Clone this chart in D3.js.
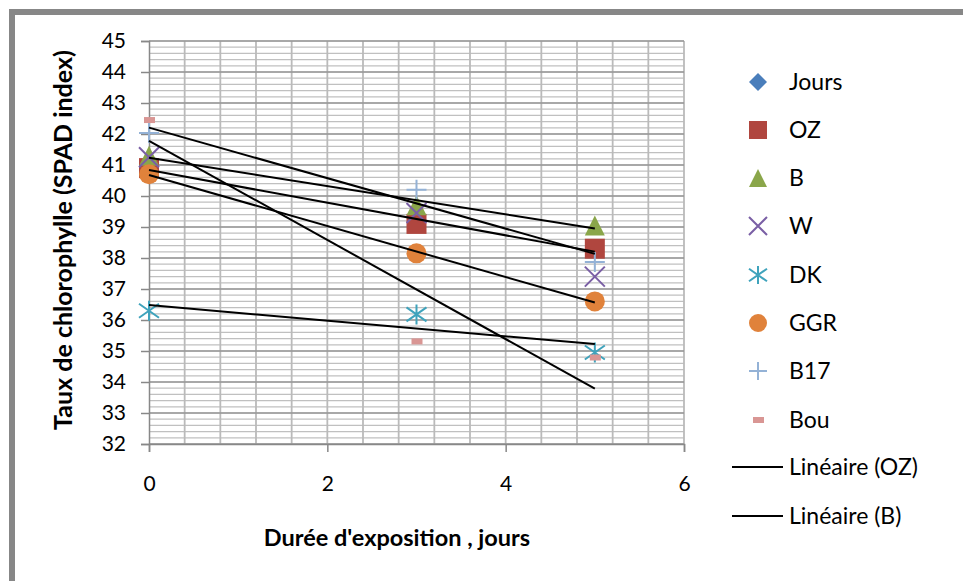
<!DOCTYPE html>
<html>
<head>
<meta charset="utf-8">
<script src="https://cdn.jsdelivr.net/npm/d3@7"></script>
<style>
  body { margin: 0; background: #fff; }
  svg { font-family: Lato, "Open Sans", sans-serif; }
</style>
</head>
<body>
<script>
// data
var days = [0, 3, 5];
var jours = [0, 3, 5];           // plotted but out of the visible range
var oz   = [40.9, 39.1, 38.3];
var b    = [41.3, 39.7, 39.05];
var w    = [41.25, 39.45, 37.4];
var dk   = [36.3, 36.18, 34.95];
var ggr  = [40.7, 38.15, 36.6];
var b17  = [42.03, 40.2, 37.87];
var bou  = [42.45, 35.31, 34.79];

var xTicks = [0, 2, 4, 6];
var yTicks = d3.range(32, 46, 1);

var seriesNames = ["Jours", "OZ", "B", "W", "DK", "GGR", "B17", "Bou"];
var seriesVals  = [jours, oz, b, w, dk, ggr, b17, bou];
var colors = ["#4A7EBB", "#B0463F", "#8AA64A", "#7A5FA5", "#3FA3BC", "#E0823B", "#94B2D6", "#D99694"];
// series that carry a linear trendline
var trendSeries = ["OZ", "B", "DK", "GGR", "B17", "Bou"];
var trendLegend = ["Linéaire (OZ)", "Linéaire (B)"];

var width = 963, height = 581;

var svg = d3.select("body").append("svg")
  .attr("width", width)
  .attr("height", height);

// outer frame (left + top only visible)
svg.append("rect").attr("x", 9).attr("y", 9).attr("width", 6).attr("height", height - 9).attr("fill", "#878787");
svg.append("rect").attr("x", 9).attr("y", 9).attr("width", width - 9).attr("height", 6).attr("fill", "#878787");

var x = d3.scaleLinear().domain([0, 6]).range([149, 684]);
var y = d3.scaleLinear().domain([32, 45]).range([444, 41]);

var grid = svg.append("g");

// minor horizontal grid
grid.selectAll(".hmin")
  .data(d3.range(32, 45.01, 0.2))
  .enter().append("line")
  .attr("x1", x(0)).attr("x2", x(6))
  .attr("y1", function(d){ return y(d); })
  .attr("y2", function(d){ return y(d); })
  .attr("stroke", "#c0c0c0")
  .attr("stroke-width", 1.2);

// vertical grid
grid.selectAll(".vg")
  .data(d3.range(0.4, 6.01, 0.4))
  .enter().append("line")
  .attr("y1", y(32)).attr("y2", y(45))
  .attr("x1", function(d){ return x(d); })
  .attr("x2", function(d){ return x(d); })
  .attr("stroke", "#bababa")
  .attr("stroke-width", 1.8);

// major horizontal grid
grid.selectAll(".hmaj")
  .data(yTicks)
  .enter().append("line")
  .attr("x1", x(0)).attr("x2", x(6))
  .attr("y1", function(d){ return y(d); })
  .attr("y2", function(d){ return y(d); })
  .attr("stroke", "#969696")
  .attr("stroke-width", 1.5);

// axes
var yAxis = d3.axisLeft(y).tickValues(yTicks).tickSize(8).tickPadding(15).tickFormat(d3.format("d"));
var xAxis = d3.axisBottom(x).tickValues(xTicks).tickSize(8).tickPadding(24).tickFormat(d3.format("d"));

var gy = svg.append("g").attr("transform", "translate(" + x(0) + ",0)").call(yAxis);
var gx = svg.append("g").attr("transform", "translate(0," + y(32) + ")").call(xAxis);
[gx, gy].forEach(function(g){
  g.select(".domain").attr("stroke", "#888").attr("stroke-width", 1.5);
  g.selectAll(".tick line").attr("stroke", "#888").attr("stroke-width", 1.5);
  g.selectAll("text").attr("font-size", 21).attr("fill", "#000")
    .attr("font-family", "Lato, sans-serif");
});

// axis titles
svg.append("text")
  .attr("transform", "translate(72,240) rotate(-90)")
  .attr("text-anchor", "middle")
  .attr("font-size", 25).attr("font-weight", "bold")
  .text("Taux de chlorophylle (SPAD index)");

svg.append("text")
  .attr("x", 397).attr("y", 546)
  .attr("text-anchor", "middle")
  .attr("font-size", 23.5).attr("font-weight", "bold")
  .text("Durée d'exposition , jours");

// marker shapes
function marker(g, i, size) {
  var c = colors[i];
  var s = size / 2;
  if (i === 0) {
    g.append("path").attr("d", "M0," + (-s) + "L" + s + ",0L0," + s + "L" + (-s) + ",0Z").attr("fill", c);
  } else if (i === 1) {
    g.append("rect").attr("x", -s).attr("y", -s).attr("width", size).attr("height", size).attr("fill", c);
  } else if (i === 2) {
    g.append("path").attr("d", "M0," + (-s) + "L" + s + "," + s + "L" + (-s) + "," + s + "Z").attr("fill", c);
  } else if (i === 3) {
    g.append("path").attr("d", "M" + (-s) + "," + (-s) + "L" + s + "," + s + "M" + s + "," + (-s) + "L" + (-s) + "," + s)
      .attr("stroke", c).attr("stroke-width", 2).attr("fill", "none");
  } else if (i === 4) {
    g.append("path").attr("d", "M0," + (-s) + "V" + s + "M" + (-s) + "," + (-s * 0.7) + "L" + s + "," + (s * 0.7) +
      "M" + s + "," + (-s * 0.7) + "L" + (-s) + "," + (s * 0.7))
      .attr("stroke", c).attr("stroke-width", 2).attr("fill", "none");
  } else if (i === 5) {
    g.append("circle").attr("r", s).attr("fill", c);
  } else if (i === 6) {
    g.append("path").attr("d", "M0," + (-s) + "V" + s + "M" + (-s) + ",0H" + s)
      .attr("stroke", c).attr("stroke-width", 2).attr("fill", "none");
  } else {
    g.append("rect").attr("x", -5).attr("y", -3).attr("width", 11).attr("height", 6).attr("fill", c);
  }
}

svg.append("clipPath").attr("id", "plotclip")
  .append("rect").attr("x", x(0) - 15).attr("y", y(45) - 15).attr("width", x(6) - x(0) + 30).attr("height", y(32) - y(45) + 15);

var plot = svg.append("g").attr("clip-path", "url(#plotclip)");

// points (jours drawn first, lands off the visible range)
seriesVals.forEach(function(vals, i) {
  plot.selectAll(".p" + i)
    .data(vals)
    .enter().append("g")
    .attr("transform", function(d, k){ return "translate(" + x(days[k]) + "," + y(d) + ")"; })
    .each(function(){ marker(d3.select(this), i, 20); });
});

// linear trendlines (least squares)
function fit(xs, ys) {
  var mx = d3.mean(xs), my = d3.mean(ys);
  var sxy = d3.sum(xs, function(v, k){ return (v - mx) * (ys[k] - my); });
  var sxx = d3.sum(xs, function(v){ return (v - mx) * (v - mx); });
  var m = sxy / sxx;
  return { m: m, c: my - m * mx };
}
trendSeries.forEach(function(name) {
  var vals = seriesVals[seriesNames.indexOf(name)];
  var f = fit(days, vals);
  plot.append("line")
    .attr("x1", x(0)).attr("y1", y(f.c))
    .attr("x2", x(5)).attr("y2", y(f.c + f.m * 5))
    .attr("stroke", "#000").attr("stroke-width", 2);
});

// legend
var legendY = [82, 130, 178, 226, 275, 323, 371, 420];
var leg = svg.append("g");
seriesNames.forEach(function(name, i) {
  var g = leg.append("g").attr("transform", "translate(758," + legendY[i] + ")");
  marker(g, i, 18);
  g.append("text").attr("x", 31).attr("dy", "0.36em").attr("font-size", 23).text(name);
});
trendLegend.forEach(function(name, i) {
  var ly = 467 + i * 49;
  leg.append("line").attr("x1", 732).attr("x2", 783).attr("y1", ly).attr("y2", ly)
    .attr("stroke", "#000").attr("stroke-width", 2);
  leg.append("text").attr("x", 789).attr("y", ly).attr("dy", "0.36em").attr("font-size", 23).text(name);
});
</script>
</body>
</html>
